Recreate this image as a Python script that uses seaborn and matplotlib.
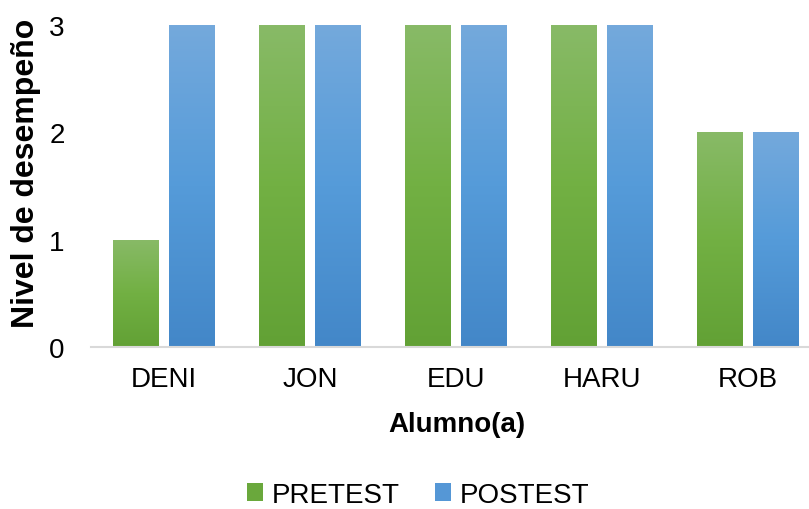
import numpy as np
import pandas as pd
import matplotlib
matplotlib.use("Agg")
import matplotlib.pyplot as plt
from matplotlib.colors import LinearSegmentedColormap
from matplotlib.patches import Patch
import seaborn as sns

alumnos = ["DENI", "JON", "EDU", "HARU", "ROB"]
pretest = [1, 3, 3, 3, 2]
postest = [3, 3, 3, 3, 2]
series = ["PRETEST", "POSTEST"]
yticks = [0, 1, 2, 3]

df = pd.DataFrame({
    "Alumno": alumnos * 2,
    "Serie": [series[0]] * len(alumnos) + [series[1]] * len(alumnos),
    "Nivel": pretest + postest,
})

sns.set_theme(style="white")
plt.rcParams["font.family"] = ["Liberation Sans", "DejaVu Sans"]
plt.rcParams["text.color"] = "black"
plt.rcParams["axes.labelcolor"] = "black"

green_stops = ["#62a135", "#72b043", "#88ba67"]   # bottom -> top
blue_stops = ["#4387c8", "#559bd9", "#74a9dc"]
mid_colors = ["#6aa83c", "#5597d6"]

fig = plt.figure(figsize=(8.09, 5.10), dpi=100)
ax = fig.add_axes([91 / 809, 162 / 510, 730 / 809, 322 / 510])

sns.barplot(data=df, x="Alumno", y="Nivel", hue="Serie", order=alumnos,
            hue_order=series, palette=mid_colors, width=0.767, gap=0.18,
            ax=ax, legend=False, edgecolor="none", linewidth=0)

# gradient fills per bar
cmaps = [LinearSegmentedColormap.from_list("g", green_stops),
         LinearSegmentedColormap.from_list("b", blue_stops)]
grad = np.linspace(0, 1, 256).reshape(-1, 1)
n = len(alumnos)
for i, bar in enumerate(list(ax.patches)):
    cm = cmaps[0] if i < n else cmaps[1]
    x0, y0 = bar.get_x(), bar.get_y()
    w, h = bar.get_width(), bar.get_height()
    if h <= 0:
        continue
    im = ax.imshow(grad, cmap=cm, origin="lower", aspect="auto",
                   extent=(x0, x0 + w, y0, y0 + h), zorder=bar.get_zorder())
    im.set_clip_path(bar)
    bar.set_facecolor("none")

ax.set_xlim(-0.5, len(alumnos) - 0.5)
ax.set_ylim(0, 3)
ax.set_yticks(yticks)
ax.set_yticklabels([str(t) for t in yticks])

for s in ["top", "right", "left"]:
    ax.spines[s].set_visible(False)
ax.spines["bottom"].set_color("#d9d9d9")
ax.spines["bottom"].set_linewidth(1.5)
ax.tick_params(axis="both", length=0, labelsize=20, colors="black")
ax.tick_params(axis="y", pad=19)
ax.tick_params(axis="x", pad=14)
ax.grid(False)

ax.set_xlabel("Alumno(a)", fontsize=20, fontweight="bold", color="black")
ax.set_ylabel("Nivel de desempeño", fontsize=23, fontweight="bold", color="black")
ax.xaxis.set_label_coords((457 - 91) / 730, -(412 - 348) / 322)
ax.yaxis.set_label_coords(-(91 - 41) / 730, (348 - 173) / 322)

handles = [Patch(facecolor=mid_colors[0], edgecolor="none"),
           Patch(facecolor=mid_colors[1], edgecolor="none")]
fig.legend(handles, series, loc="center", bbox_to_anchor=(418 / 809, 1 - 496 / 510),
           ncol=2, frameon=False, fontsize=20, handlelength=0.6, handleheight=0.6,
           handletextpad=0.3, columnspacing=1.25, borderpad=0.1, labelcolor="black")

fig.savefig("out.png", dpi=100)
